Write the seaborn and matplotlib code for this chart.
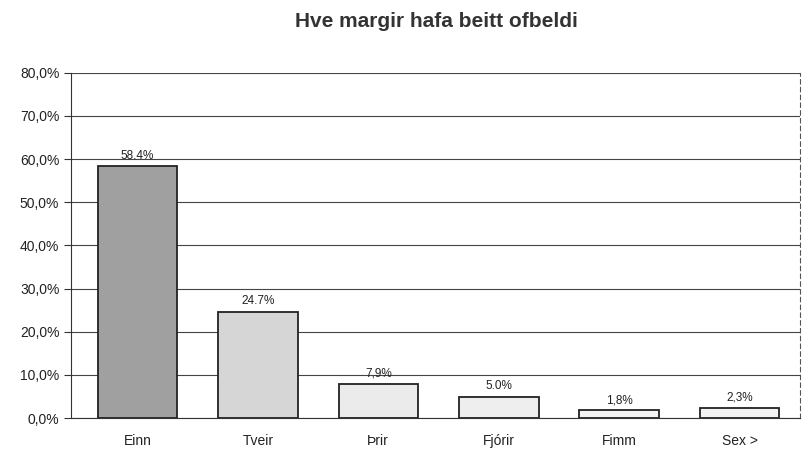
import matplotlib
matplotlib.use("Agg")
import matplotlib.pyplot as plt
import seaborn as sns
import pandas as pd

# Gögn lesin af myndinni
flokkar = ["Einn", "Tveir", "Þrir", "Fjórir", "Fimm", "Sex >"]
hlutfall = [58.4, 24.7, 7.9, 5.0, 1.8, 2.3]
merki = ["58.4%", "24.7%", "7,9%", "5.0%", "1,8%", "2,3%"]
y_ticks = [0, 10, 20, 30, 40, 50, 60, 70, 80]

litir = ["#a0a0a0", "#d6d6d6", "#ebebeb", "#eeeeee", "#f2f2f2", "#f2f2f2"]

sns.set_style("white")
plt.rcParams["font.family"] = ["Liberation Sans", "DejaVu Sans"]

df = pd.DataFrame({"flokkur": flokkar, "hlutfall": hlutfall})

fig = plt.figure(figsize=(8.08, 4.61), dpi=100)
ax = fig.add_axes([0.088, 0.093, 0.902, 0.749])

sns.barplot(data=df, x="flokkur", y="hlutfall", hue="flokkur", palette=litir,
            legend=False, width=0.66, edgecolor="#222222", linewidth=1.3,
            ax=ax, zorder=3)

for i, (v, m) in enumerate(zip(hlutfall, merki)):
    ax.text(i, v + 1.0, m, ha="center", va="bottom", fontsize=8.5, color="#222222")

ax.set_ylim(0, 80)
ax.set_yticks(y_ticks)
ax.set_yticklabels([f"{t},0%" for t in y_ticks], fontsize=10, color="#222222")
ax.tick_params(axis="x", labelsize=10, colors="#222222", pad=8)
ax.tick_params(axis="y", left=True, length=5, color="#333333")
ax.grid(axis="y", color="#444444", linewidth=0.8, zorder=0)
ax.set_xlabel("")
ax.set_ylabel("")
ax.set_xlim(-0.55, 5.5)

ax.spines["top"].set_visible(False)
ax.spines["left"].set_color("#333333")
ax.spines["bottom"].set_color("#333333")
ax.spines["right"].set_color("#555555")
ax.spines["right"].set_linestyle((0, (4, 3)))

fig.suptitle("Hve margir hafa beitt ofbeldi", x=0.54, y=0.975, fontsize=15,
             fontweight="bold", color="#333333")

fig.savefig("out.png", dpi=100)
